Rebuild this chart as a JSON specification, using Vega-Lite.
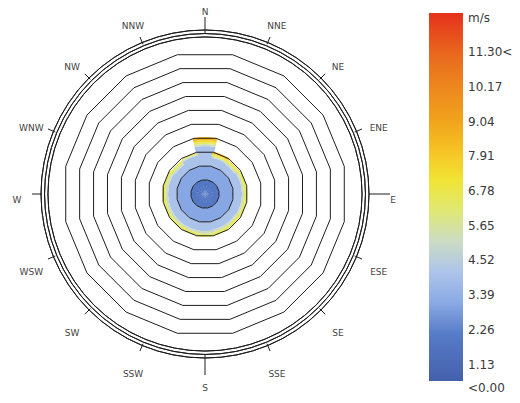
{
  "$schema": "https://vega.github.io/schema/vega-lite/v6.json",
  "width": 388,
  "height": 388,
  "autosize": {"type": "none"},
  "padding": {"left": 11, "top": 0, "right": 121, "bottom": 15},
  "background": "white",
  "view": {"stroke": null},
  "config": {"font": "DejaVu Sans"},
  "datasets": {
    "dirs": [
      {"d": 0, "name": "N"}, {"d": 22.5, "name": "NNE"}, {"d": 45, "name": "NE"}, {"d": 67.5, "name": "ENE"},
      {"d": 90, "name": "E"}, {"d": 112.5, "name": "ESE"}, {"d": 135, "name": "SE"}, {"d": 157.5, "name": "SSE"},
      {"d": 180, "name": "S"}, {"d": 202.5, "name": "SSW"}, {"d": 225, "name": "SW"}, {"d": 247.5, "name": "WSW"},
      {"d": 270, "name": "W"}, {"d": 292.5, "name": "WNW"}, {"d": 315, "name": "NW"}, {"d": 337.5, "name": "NNW"}
    ],
    "rose": [
      {"d": 0, "r0": [0, 0.99, 1.97, 3.38, 3.52, 3.66, 3.80], "r1": [0.99, 1.97, 3.38, 3.52, 3.66, 3.80, 4.01], "s": [1.7, 2.83, 3.96, 5.09, 6.22, 7.35, 8.48]},
      {"d": 22.5, "r0": [0, 0.99, 1.97, 2.61, 2.68, 2.82, 2.89], "r1": [0.99, 1.97, 2.61, 2.68, 2.82, 2.89, 3.03], "s": [1.7, 2.83, 3.96, 5.09, 6.22, 7.35, 8.48]},
      {"d": 45, "r0": [0, 0.99, 1.97, 2.54, 2.68, 2.82], "r1": [0.99, 1.97, 2.54, 2.68, 2.82, 2.89], "s": [1.7, 2.83, 3.96, 5.09, 6.22, 7.35]},
      {"d": 67.5, "r0": [0, 0.99, 1.97, 2.61, 2.75], "r1": [0.99, 1.97, 2.61, 2.75, 2.96], "s": [1.7, 2.83, 3.96, 5.09, 6.22]},
      {"d": 90, "r0": [0, 0.99, 1.97, 2.61, 2.75], "r1": [0.99, 1.97, 2.61, 2.75, 2.99], "s": [1.7, 2.83, 3.96, 5.09, 6.22]},
      {"d": 112.5, "r0": [0, 0.99, 1.97, 2.61, 2.75], "r1": [0.99, 1.97, 2.61, 2.75, 2.96], "s": [1.7, 2.83, 3.96, 5.09, 6.22]},
      {"d": 135, "r0": [0, 0.99, 1.97, 2.58, 2.72], "r1": [0.99, 1.97, 2.58, 2.72, 2.92], "s": [1.7, 2.83, 3.96, 5.09, 6.22]},
      {"d": 157.5, "r0": [0, 0.99, 1.97, 2.58, 2.75], "r1": [0.99, 1.97, 2.58, 2.75, 2.99], "s": [1.7, 2.83, 3.96, 5.09, 6.22]},
      {"d": 180, "r0": [0, 0.99, 1.97, 2.61, 2.82], "r1": [0.99, 1.97, 2.61, 2.82, 3.03], "s": [1.7, 2.83, 3.96, 5.09, 6.22]},
      {"d": 202.5, "r0": [0, 0.99, 1.97, 2.61, 2.78], "r1": [0.99, 1.97, 2.61, 2.78, 2.99], "s": [1.7, 2.83, 3.96, 5.09, 6.22]},
      {"d": 225, "r0": [0, 0.99, 1.97, 2.61, 2.78], "r1": [0.99, 1.97, 2.61, 2.78, 2.99], "s": [1.7, 2.83, 3.96, 5.09, 6.22]},
      {"d": 247.5, "r0": [0, 0.99, 1.97, 2.61, 2.78], "r1": [0.99, 1.97, 2.61, 2.78, 2.99], "s": [1.7, 2.83, 3.96, 5.09, 6.22]},
      {"d": 270, "r0": [0, 0.99, 1.97, 2.61, 2.78], "r1": [0.99, 1.97, 2.61, 2.78, 3.03], "s": [1.7, 2.83, 3.96, 5.09, 6.22]},
      {"d": 292.5, "r0": [0, 0.99, 1.97, 2.61, 2.75], "r1": [0.99, 1.97, 2.61, 2.75, 2.96], "s": [1.7, 2.83, 3.96, 5.09, 6.22]},
      {"d": 315, "r0": [0, 0.99, 1.97, 2.54, 2.68], "r1": [0.99, 1.97, 2.54, 2.68, 2.85], "s": [1.7, 2.83, 3.96, 5.09, 6.22]},
      {"d": 337.5, "r0": [0, 0.99, 1.97, 2.75, 2.82], "r1": [0.99, 1.97, 2.75, 2.82, 2.92], "s": [1.7, 2.83, 3.96, 5.09, 6.22]}
    ],
    "rings": [
      {"ring": 1, "a": [11.25, 33.75, 56.25, 78.75, 101.25, 123.75, 146.25, 168.75, 191.25, 213.75, 236.25, 258.75, 281.25, 303.75, 326.25, 348.75, 371.25]},
      {"ring": 2, "a": [11.25, 33.75, 56.25, 78.75, 101.25, 123.75, 146.25, 168.75, 191.25, 213.75, 236.25, 258.75, 281.25, 303.75, 326.25, 348.75, 371.25]},
      {"ring": 3, "a": [11.25, 33.75, 56.25, 78.75, 101.25, 123.75, 146.25, 168.75, 191.25, 213.75, 236.25, 258.75, 281.25, 303.75, 326.25, 348.75, 371.25]},
      {"ring": 4, "a": [11.25, 33.75, 56.25, 78.75, 101.25, 123.75, 146.25, 168.75, 191.25, 213.75, 236.25, 258.75, 281.25, 303.75, 326.25, 348.75, 371.25]},
      {"ring": 5, "a": [11.25, 33.75, 56.25, 78.75, 101.25, 123.75, 146.25, 168.75, 191.25, 213.75, 236.25, 258.75, 281.25, 303.75, 326.25, 348.75, 371.25]},
      {"ring": 6, "a": [11.25, 33.75, 56.25, 78.75, 101.25, 123.75, 146.25, 168.75, 191.25, 213.75, 236.25, 258.75, 281.25, 303.75, 326.25, 348.75, 371.25]},
      {"ring": 7, "a": [11.25, 33.75, 56.25, 78.75, 101.25, 123.75, 146.25, 168.75, 191.25, 213.75, 236.25, 258.75, 281.25, 303.75, 326.25, 348.75, 371.25]},
      {"ring": 8, "a": [11.25, 33.75, 56.25, 78.75, 101.25, 123.75, 146.25, 168.75, 191.25, 213.75, 236.25, 258.75, 281.25, 303.75, 326.25, 348.75, 371.25]},
      {"ring": 9, "a": [11.25, 33.75, 56.25, 78.75, 101.25, 123.75, 146.25, 168.75, 191.25, 213.75, 236.25, 258.75, 281.25, 303.75, 326.25, 348.75, 371.25]},
      {"ring": 10, "a": [11.25, 33.75, 56.25, 78.75, 101.25, 123.75, 146.25, 168.75, 191.25, 213.75, 236.25, 258.75, 281.25, 303.75, 326.25, 348.75, 371.25]}
    ]
  },
  "layer": [
    {
      "data": {"name": "rose"},
      "transform": [
        {"flatten": ["r0", "r1", "s"]},
        {"calculate": "datum.d - 12.5", "as": "t0"},
        {"calculate": "datum.d + 12.5", "as": "t1"}
      ],
      "mark": {"type": "arc"},
      "encoding": {
        "theta": {"field": "t0", "type": "quantitative", "stack": false, "scale": {"type": "linear", "domain": [0, 360], "range": [0, 6.283185307179586], "zero": false, "nice": false}},
        "theta2": {"field": "t1"},
        "radius": {"field": "r1", "type": "quantitative", "scale": {"type": "linear", "domain": [0, 13.662], "range": [0, 194], "zero": true, "nice": false}},
        "radius2": {"field": "r0"},
        "color": {
          "field": "s", "type": "quantitative",
          "scale": {
            "type": "linear", "interpolate": "rgb",
            "domain": [0.45, 2.2, 2.32, 3.39, 4.52, 5.65, 6.78, 7.91, 9.04, 10.17, 11.3, 12.43],
            "range": ["#4460ac", "#5a80cc", "#7c9de0", "#94b2e8", "#c2d4ec", "#d9e68e", "#f0ec38", "#f6c424", "#f0a01c", "#ec841e", "#e8621e", "#e6301a"]
          },
          "legend": {
            "type": "gradient",
            "orient": "none", "legendX": 418, "legendY": 13, "title": null, "direction": "vertical",
            "gradientLength": 368, "gradientThickness": 34, "gradientStrokeWidth": 0,
            "values": [0, 1.13, 2.26, 3.39, 4.52, 5.65, 6.78, 7.91, 9.04, 10.17, 11.3, 12.43],
            "labelExpr": "datum.value >= 12 ? 'm/s' : datum.value == 0 ? '<0.00' : datum.value > 11 ? format(datum.value, '.2f') + '<' : format(datum.value, '.2f')",
            "labelOverlap": false, "labelFontSize": 12, "labelColor": "#3a3a3a", "labelOffset": 5, "labelFont": "DejaVu Sans",
            "encode": {"labels": {"update": {"dy": {"signal": "datum.value > 12 || datum.value < 0.1 ? 0 : 4.5"}}}}
          }
        }
      }
    },
    {
      "data": {"name": "rings"},
      "transform": [
        {"flatten": ["a"]},
        {"calculate": "datum.ring * sin(datum.a * PI / 180)", "as": "px"},
        {"calculate": "datum.ring * cos(datum.a * PI / 180)", "as": "py"}
      ],
      "mark": {"type": "line", "stroke": "#1e1e1e", "strokeWidth": 1},
      "encoding": {
        "x": {"field": "px", "type": "quantitative", "scale": {"domain": [-13.662, 13.662], "nice": false, "zero": false}, "axis": null},
        "y": {"field": "py", "type": "quantitative", "scale": {"domain": [-13.662, 13.662], "nice": false, "zero": false}, "axis": null},
        "detail": {"field": "ring", "type": "nominal"},
        "order": {"field": "a", "type": "quantitative"}
      }
    },
    {
      "data": {"values": [{"r": 11.06}, {"r": 11.3}, {"r": 11.55}]},
      "transform": [
        {"calculate": "0", "as": "ta"},
        {"calculate": "360", "as": "tb"}
      ],
      "mark": {"type": "arc", "fillOpacity": 0, "stroke": "#1e1e1e", "strokeWidth": 1},
      "encoding": {
        "theta": {"field": "ta", "type": "quantitative", "stack": false, "scale": {"type": "linear", "domain": [0, 360], "range": [0, 6.283185307179586], "zero": false, "nice": false}},
        "theta2": {"field": "tb"},
        "radius": {"field": "r", "type": "quantitative", "scale": {"type": "linear", "domain": [0, 13.662], "range": [0, 194], "zero": true, "nice": false}},
        "radius2": {"field": "r"}
      }
    },
    {
      "data": {"name": "dirs"},
      "transform": [
        {"calculate": "datum.d == 0 ? 11.34 : datum.d == 180 ? 11.34 : datum.d == 90 ? 11.55 : datum.d == 270 ? 11.48 : 11.41", "as": "rin"},
        {"calculate": "datum.d == 0 ? 12.46 : datum.d == 180 ? 12.75 : datum.d == 90 ? 13.03 : datum.d == 270 ? 12.18 : 11.97", "as": "rout"},
        {"calculate": "datum.rin * sin(datum.d * PI / 180)", "as": "x0"},
        {"calculate": "datum.rin * cos(datum.d * PI / 180)", "as": "y0"},
        {"calculate": "datum.rout * sin(datum.d * PI / 180)", "as": "x1"},
        {"calculate": "datum.rout * cos(datum.d * PI / 180)", "as": "y1"}
      ],
      "mark": {"type": "rule", "stroke": "#1e1e1e", "strokeWidth": 1},
      "encoding": {
        "x": {"field": "x0", "type": "quantitative", "scale": {"domain": [-13.662, 13.662], "nice": false, "zero": false}, "axis": null},
        "y": {"field": "y0", "type": "quantitative", "scale": {"domain": [-13.662, 13.662], "nice": false, "zero": false}, "axis": null},
        "x2": {"field": "x1"},
        "y2": {"field": "y1"}
      }
    },
    {
      "data": {"name": "dirs"},
      "mark": {"type": "text", "fontSize": 9, "color": "#444444", "dy": 6, "font": "DejaVu Sans"},
      "encoding": {
        "theta": {"field": "d", "type": "quantitative", "stack": false, "scale": {"type": "linear", "domain": [0, 360], "range": [0, 6.283185307179586], "zero": false, "nice": false}},
        "radius": {"datum": 13.24, "type": "quantitative", "scale": {"type": "linear", "domain": [0, 13.662], "range": [0, 194], "zero": true, "nice": false}},
        "text": {"field": "name", "type": "nominal"}
      }
    }
  ]
}
